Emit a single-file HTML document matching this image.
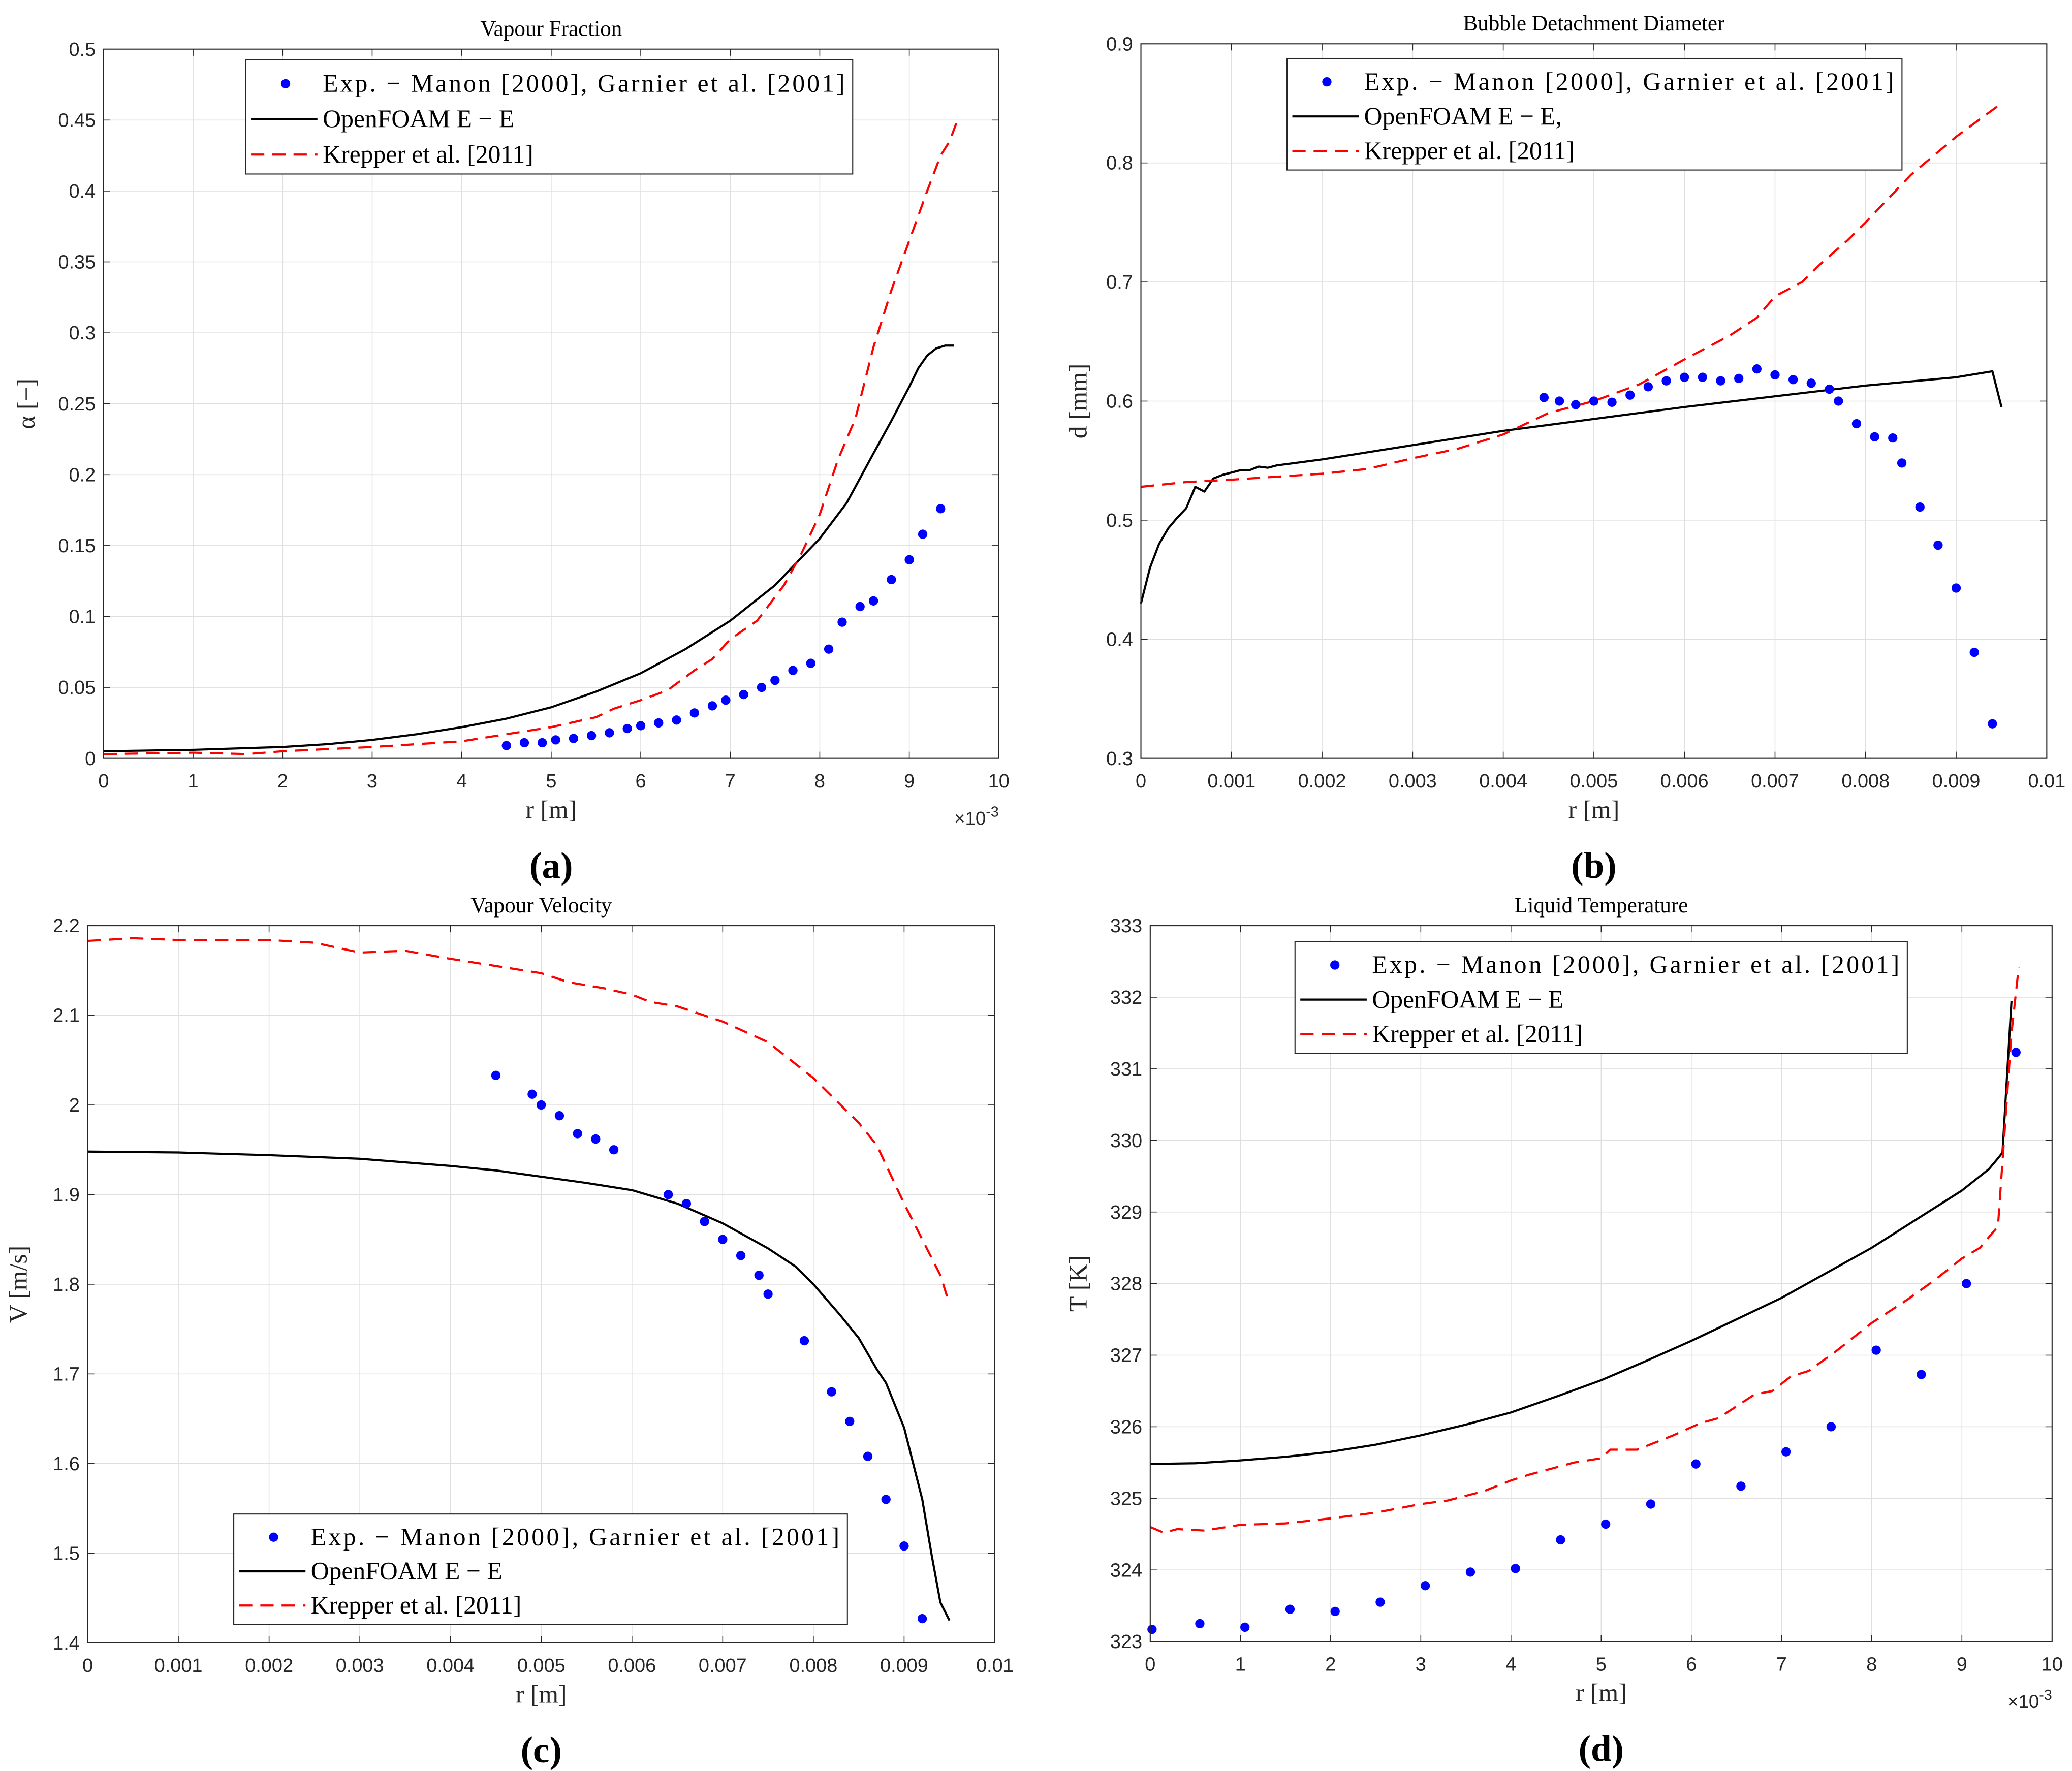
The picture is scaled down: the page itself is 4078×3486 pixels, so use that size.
<!DOCTYPE html>
<html><head><meta charset="utf-8"><style>html,body{margin:0;padding:0;background:#fff}svg{display:block}</style></head>
<body>
<svg id="fig" xmlns="http://www.w3.org/2000/svg" width="4078" height="3486" viewBox="0 0 1560 1333.5" preserveAspectRatio="none"></svg>
<script>
// Panel (a) Vapour Fraction, r in 1e-3 m
const aExpR=[4.5,4.7,4.9,5.05,5.25,5.45,5.65,5.85,6.0,6.2,6.4,6.6,6.8,6.95,7.15,7.35,7.5,7.7,7.9,8.1,8.25,8.45,8.6,8.8,9.0,9.15,9.35];
const aExpV=[.009,.011,.011,.013,.014,.016,.018,.021,.023,.025,.027,.032,.037,.041,.045,.050,.055,.062,.067,.077,.096,.107,.111,.126,.140,.158,.176];
const aOfR=[0,1,2,2.5,3,3.5,4,4.5,5,5.5,6,6.5,7,7.5,8,8.3,8.6,8.8,9.0,9.1,9.2,9.3,9.4,9.5];
const aOfV=[.005,.006,.008,.010,.013,.017,.022,.028,.036,.047,.060,.077,.097,.122,.155,.18,.215,.238,.262,.275,.284,.289,.291,.291];
const aKrR=[0,1,1.6,2,3,4,4.5,5,5.5,5.7,6,6.3,6.6,6.8,7,7.3,7.6,7.8,8,8.2,8.4,8.6,8.8,9,9.2,9.35,9.45,9.55];
const aKrV=[.003,.004,.003,.005,.008,.012,.017,.022,.029,.035,.041,.048,.062,.07,.084,.097,.122,.145,.172,.21,.24,.29,.33,.365,.40,.425,.435,.452];
const aXTicks=[0,1,2,3,4,5,6,7,8,9,10];
const aYTicks=[0,0.05,0.1,0.15,0.2,0.25,0.3,0.35,0.4,0.45,0.5];
// Panel (b) Bubble Detachment Diameter
const bExpR=[.00445,.00462,.0048,.005,.0052,.0054,.0056,.0058,.006,.0062,.0064,.0066,.0068,.007,.0072,.0074,.0076,.0077,.0079,.0081,.0083,.0084,.0086,.0088,.009,.0092,.0094];
const bExpV=[.603,.600,.597,.600,.599,.605,.612,.617,.62,.62,.617,.619,.627,.622,.618,.615,.61,.60,.581,.57,.569,.548,.511,.479,.443,.389,.329];
const bOfR=[0,.0001,.0002,.0003,.0004,.0005,.0006,.0007,.0008,.0009,.0011,.0012,.0013,.0014,.0015,.002,.003,.004,.005,.006,.007,.008,.009,.0094,.0095];
const bOfV=[.43,.46,.48,.493,.502,.51,.528,.524,.535,.538,.542,.542,.545,.544,.546,.551,.563,.575,.585,.595,.604,.613,.62,.625,.595];
const bKrR=[0,.0005,.001,.002,.0025,.003,.0035,.004,.0045,.005,.0055,.006,.0065,.0068,.007,.0073,.0075,.0078,.008,.0085,.009,.0095];
const bKrV=[.528,.532,.534,.539,.543,.552,.560,.572,.59,.600,.614,.635,.655,.67,.688,.70,.715,.735,.75,.79,.822,.85];
const bXTicks=[0,0.001,0.002,0.003,0.004,0.005,0.006,0.007,0.008,0.009,0.01];
const bYTicks=[0.3,0.4,0.5,0.6,0.7,0.8,0.9];
// Panel (c) Vapour Velocity
const cExpR=[.0045,.0049,.005,.0052,.0054,.0056,.0058,.0064,.0066,.0068,.007,.0072,.0074,.0075,.0079,.0082,.0084,.0086,.0088,.009,.0092];
const cExpV=[2.033,2.012,2.0,1.988,1.968,1.962,1.95,1.9,1.89,1.87,1.85,1.832,1.81,1.789,1.737,1.68,1.647,1.608,1.56,1.508,1.427];
const cOfR=[0,.001,.002,.003,.004,.0045,.005,.0055,.006,.0065,.007,.0075,.0078,.008,.0083,.0085,.0087,.0088,.009,.0091,.0092,.0093,.0094,.0095];
const cOfV=[1.948,1.947,1.944,1.94,1.932,1.927,1.92,1.913,1.905,1.89,1.868,1.84,1.82,1.80,1.765,1.74,1.705,1.69,1.64,1.60,1.56,1.50,1.445,1.425];
const cKrR=[0,.0005,.001,.002,.0025,.003,.0035,.004,.0045,.005,.0053,.0057,.006,.0062,.0065,.007,.0075,.008,.0083,.0085,.0087,.009,.0092,.0094,.0095];
const cKrV=[2.183,2.186,2.184,2.184,2.181,2.17,2.172,2.163,2.155,2.147,2.137,2.13,2.123,2.115,2.11,2.093,2.07,2.03,2.0,1.98,1.955,1.89,1.85,1.81,1.778];
const cXTicks=[0,0.001,0.002,0.003,0.004,0.005,0.006,0.007,0.008,0.009,0.01];
const cYTicks=[1.4,1.5,1.6,1.7,1.8,1.9,2,2.1,2.2];
// Panel (d) Liquid Temperature, r in 1e-3 m
const dExpR=[0.02,.55,1.05,1.55,2.05,2.55,3.05,3.55,4.05,4.55,5.05,5.55,6.05,6.55,7.05,7.55,8.05,8.55,9.05,9.6];
const dExpV=[323.17,323.25,323.2,323.45,323.42,323.55,323.78,323.97,324.02,324.42,324.64,324.92,325.48,325.17,325.65,326.0,327.07,326.73,328.0,331.23];
const dOfR=[0,.5,1,1.5,2,2.5,3,3.5,4,4.5,5,5.5,6,6.5,7,7.5,8,8.5,9,9.2,9.3,9.4,9.45,9.55];
const dOfV=[325.48,325.49,325.53,325.58,325.65,325.75,325.88,326.03,326.2,326.42,326.65,326.92,327.2,327.5,327.8,328.15,328.5,328.9,329.3,329.5,329.6,329.75,329.83,331.95];
const dKrR=[0,.15,.3,.6,1,1.5,2,2.5,3,3.3,3.7,4,4.2,4.7,5,5.1,5.4,5.8,6.1,6.3,6.7,6.9,7.1,7.3,7.6,8,8.4,8.7,9.0,9.2,9.4,9.45,9.55,9.63];
const dKrV=[324.6,324.52,324.57,324.55,324.63,324.65,324.72,324.8,324.92,324.97,325.1,325.25,325.33,325.5,325.56,325.68,325.68,325.88,326.05,326.12,326.45,326.5,326.7,326.78,327.05,327.45,327.78,328.05,328.35,328.5,328.8,329.7,331.5,332.42];
const dXTicks=[0,1,2,3,4,5,6,7,8,9,10];
const dYTicks=[323,324,325,326,327,328,329,330,331,332,333];

const NS='http://www.w3.org/2000/svg';
const svg=document.getElementById('fig');
function mk(tag,attrs,parent,text){const e=document.createElementNS(NS,tag);for(const k in attrs)e.setAttribute(k,attrs[k]);if(text!==undefined)e.textContent=text;(parent||svg).appendChild(e);return e;}
const SERIF='"Liberation Serif", serif', SANS='"Liberation Sans", sans-serif';
const LEG1='Exp. \u2212 Manon [2000],  Garnier et al. [2001]';

function panel(id,P){
  const g=mk('g',{});
  
  
  const X=v=>P.x0+(v-P.xmin)/(P.xmax-P.xmin)*(P.x1-P.x0);
  const Y=v=>P.y1-(v-P.ymin)/(P.ymax-P.ymin)*(P.y1-P.y0);
  mk('rect',{x:P.x0,y:P.y0,width:P.x1-P.x0,height:P.y1-P.y0,fill:'#fff'},g);
  const grid=mk('g',{},g);
  
  
  P.xt.forEach(t=>{const x=X(t);
    mk('line',{x1:x,x2:x,y1:P.y0,y2:P.y1,stroke:'#dfdfdf','stroke-width':0.6},grid);
    mk('line',{x1:x,x2:x,y1:P.y1,y2:P.y1-5,stroke:'#262626','stroke-width':0.6},g);
    mk('line',{x1:x,x2:x,y1:P.y0,y2:P.y0+5,stroke:'#262626','stroke-width':0.6},g);
    const tl=mk('text',{x:x,y:P.y1+22,'font-family':SANS,'font-size':14.5,fill:'#262626','text-anchor':'middle'},g,P.xfmt(t));
    
    
  });
  P.yt.forEach(t=>{const y=Y(t);
    mk('line',{x1:P.x0,x2:P.x1,y1:y,y2:y,stroke:'#dfdfdf','stroke-width':0.6},grid);
    mk('line',{x1:P.x0,x2:P.x0+5,y1:y,y2:y,stroke:'#262626','stroke-width':0.6},g);
    mk('line',{x1:P.x1,x2:P.x1-5,y1:y,y2:y,stroke:'#262626','stroke-width':0.6},g);
    const tl=mk('text',{x:P.x0-6,y:y+5,'font-family':SANS,'font-size':14.5,fill:'#262626','text-anchor':'end'},g,P.yfmt(t));
    
    
  });
  const pts=(rs,vs)=>rs.map((r,i)=>X(r).toFixed(2)+','+Y(vs[i]).toFixed(2)).join(' ');
  const of=mk('polyline',{points:pts(P.ofR,P.ofV),fill:'none',stroke:'#000','stroke-width':1.6,'stroke-linejoin':'round'},g);
  
  
  const kr=mk('polyline',{points:pts(P.krR,P.krV),fill:'none',stroke:'#ff0000','stroke-width':1.6,'stroke-dasharray':'10,6'},g);
  
  
  P.exR.forEach((r,i)=>{const c=mk('circle',{cx:X(r),cy:Y(P.exV[i]),r:3.5,fill:'#0000ff'},g);
    
    });
  mk('rect',{x:P.x0,y:P.y0,width:P.x1-P.x0,height:P.y1-P.y0,fill:'none',stroke:'#262626','stroke-width':0.8},g);
  const L=P.leg;
  const lg=mk('g',{},g);
  
  
  mk('rect',{x:L.x,y:L.y,width:L.w,height:L.h,fill:'#fff',stroke:'#262626','stroke-width':0.8},lg);
  const ey=[L.y+L.h*0.21,L.y+L.h*0.52,L.y+L.h*0.83];
  mk('circle',{cx:L.x+30,cy:ey[0],r:3.5,fill:'#0000ff'},lg);
  mk('line',{x1:L.x+4,x2:L.x+54,y1:ey[1],y2:ey[1],stroke:'#000','stroke-width':1.6},lg);
  mk('line',{x1:L.x+4,x2:L.x+54,y1:ey[2],y2:ey[2],stroke:'#ff0000','stroke-width':1.6,'stroke-dasharray':'10,6'},lg);
  const labs=[LEG1,P.ofLabel,'Krepper et al. [2011]'];
  labs.forEach((t,i)=>{const e=mk('text',{x:L.x+58,y:ey[i]+6,'font-family':SERIF,'font-size':19,fill:'#000'},lg,t);
    if(i===0)e.setAttribute('textLength',L.w-64);
    
    });
  const ti=mk('text',{x:(P.x0+P.x1)/2,y:P.y0-10,'font-family':SERIF,'font-size':16.5,fill:'#000','text-anchor':'middle'},g,P.title);
  
  
  const xl=mk('text',{x:(P.x0+P.x1)/2,y:P.y1+45,'font-family':SERIF,'font-size':19,fill:'#262626','text-anchor':'middle'},g,'r [m]');
  
  
  const yx=P.ylx, yy=(P.y0+P.y1)/2;
  const yl=mk('text',{x:yx,y:yy,'font-family':SERIF,'font-size':19,fill:'#262626','text-anchor':'middle',transform:'rotate(-90 '+yx+' '+yy+')'},g,P.ylabel);
  
  
  if(P.exp){const ex=mk('text',{x:P.x1,y:P.y1+50,'font-family':SANS,'font-size':14,fill:'#262626','text-anchor':'end'},g);
    
    
    mk('tspan',{},ex,'\u00d710');mk('tspan',{dy:-6,'font-size':11},ex,'-3');}
  const pl=mk('text',{x:(P.x0+P.x1)/2,y:P.y1+90,'font-family':SERIF,'font-size':28,'font-weight':'bold',fill:'#000','text-anchor':'middle'},g,'('+id+')');
  
  
}
const fmtI=t=>String(t);
const fmtD=t=>t===0?'0':String(+t.toFixed(3));
panel('a',{x0:78,x1:752,y0:37,y1:571,xmin:0,xmax:10,ymin:0,ymax:0.5,xt:aXTicks,yt:aYTicks,xfmt:fmtI,yfmt:fmtD,
  exR:aExpR,exV:aExpV,ofR:aOfR,ofV:aOfV,krR:aKrR,krV:aKrV,ofLabel:'OpenFOAM E \u2212 E',
  leg:{x:185,y:45,w:457,h:86},title:'Vapour Fraction',ylabel:'\u03b1 [\u2212]',ylx:26,exp:true});
panel('b',{x0:859,x1:1541,y0:33,y1:571,xmin:0,xmax:0.01,ymin:0.3,ymax:0.9,xt:bXTicks,yt:bYTicks,xfmt:fmtD,yfmt:fmtD,
  exR:bExpR,exV:bExpV,ofR:bOfR,ofV:bOfV,krR:bKrR,krV:bKrV,ofLabel:'OpenFOAM E \u2212 E,',
  leg:{x:969,y:44,w:463,h:84},title:'Bubble Detachment Diameter',ylabel:'d [mm]',ylx:818,exp:false});
panel('c',{x0:66,x1:749,y0:697,y1:1237,xmin:0,xmax:0.01,ymin:1.4,ymax:2.2,xt:cXTicks,yt:cYTicks,xfmt:fmtD,yfmt:fmtD,
  exR:cExpR,exV:cExpV,ofR:cOfR,ofV:cOfV,krR:cKrR,krV:cKrV,ofLabel:'OpenFOAM E \u2212 E',
  leg:{x:176,y:1140,w:462,h:83},title:'Vapour Velocity',ylabel:'V [m/s]',ylx:20,exp:false});
panel('d',{x0:866,x1:1545,y0:697,y1:1236,xmin:0,xmax:10,ymin:323,ymax:333,xt:dXTicks,yt:dYTicks,xfmt:fmtI,yfmt:fmtI,
  exR:dExpR,exV:dExpV,ofR:dOfR,ofV:dOfV,krR:dKrR,krV:dKrV,ofLabel:'OpenFOAM E \u2212 E',
  leg:{x:975,y:709,w:461,h:84},title:'Liquid Temperature',ylabel:'T [K]',ylx:818,exp:true});
</script>
</body></html>
